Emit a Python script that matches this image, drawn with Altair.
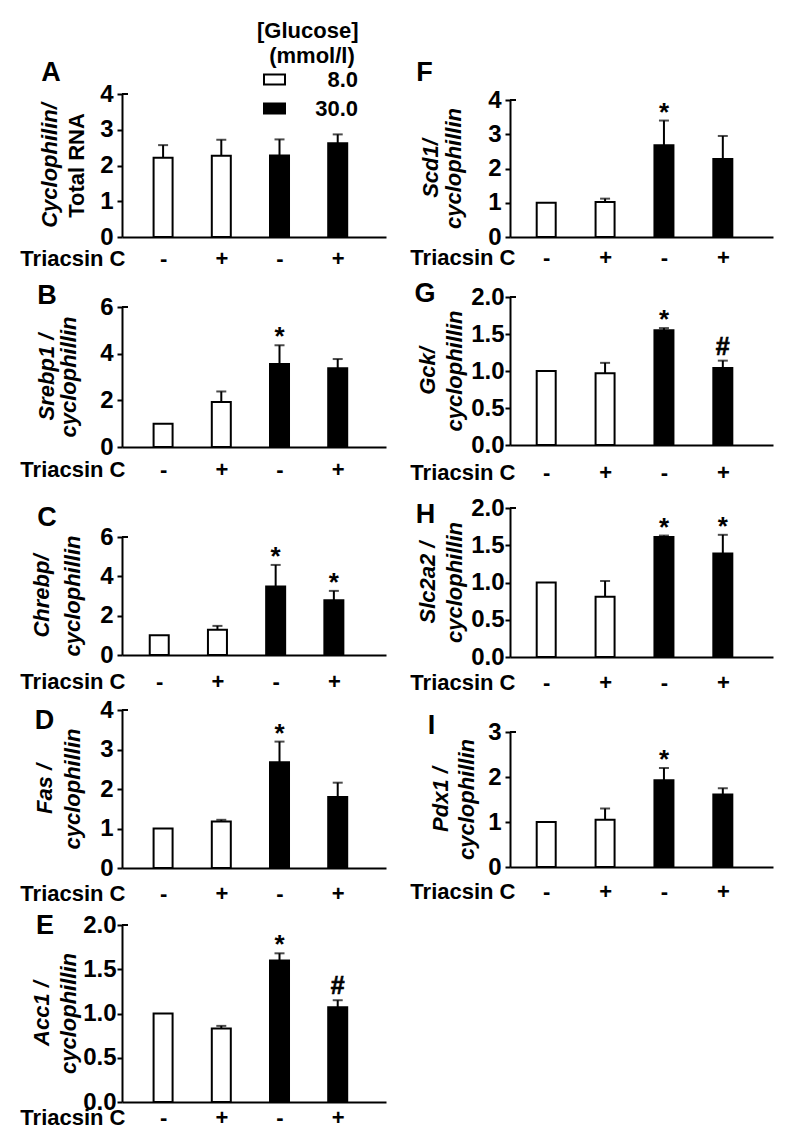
import altair as alt
import pandas as pd

FONT = "Liberation Sans"
FS = 22

# ---------------- data ----------------
order = [1, 2, 3, 4]
triacsin = ["-", "+", "-", "+"]
glucose = ["8.0", "8.0", "30.0", "30.0"]

mean_A = [2.22, 2.27, 2.28, 2.62]
sem_A = [0.35, 0.45, 0.45, 0.25]
mark_A = ["", "", "", ""]

mean_B = [1.0, 1.93, 3.56, 3.37]
sem_B = [0.0, 0.45, 0.80, 0.40]
mark_B = ["", "", "*", ""]

mean_C = [1.0, 1.28, 3.48, 2.79]
sem_C = [0.0, 0.20, 1.10, 0.47]
mark_C = ["", "", "*", "*"]

mean_D = [1.0, 1.18, 2.68, 1.80]
sem_D = [0.0, 0.04, 0.52, 0.36]
mark_D = ["", "", "*", ""]

mean_E = [1.0, 0.83, 1.60, 1.07]
sem_E = [0.0, 0.03, 0.08, 0.08]
mark_E = ["", "", "*", "#"]

mean_F = [1.0, 1.02, 2.68, 2.28]
sem_F = [0.0, 0.10, 0.72, 0.67]
mark_F = ["", "", "*", ""]

mean_G = [1.0, 0.97, 1.55, 1.04]
sem_G = [0.0, 0.14, 0.03, 0.10]
mark_G = ["", "", "*", "#"]

mean_H = [1.0, 0.81, 1.61, 1.39]
sem_H = [0.0, 0.21, 0.02, 0.25]
mark_H = ["", "", "*", "*"]

mean_I = [1.0, 1.05, 1.93, 1.61]
sem_I = [0.0, 0.25, 0.27, 0.14]
mark_I = ["", "", "*", ""]

ylabel_A = ["Cyclophilin/", "Total RNA"]
ylabel_B = ["Srebp1 /", "cyclophillin"]
ylabel_C = ["Chrebp/", "cyclophillin"]
ylabel_D = ["Fas /", "cyclophillin"]
ylabel_E = ["Acc1 /", "cyclophillin"]
ylabel_F = ["Scd1/", "cyclophillin"]
ylabel_G = ["Gck/", "cyclophillin"]
ylabel_H = ["Slc2a2 /", "cyclophillin"]
ylabel_I = ["Pdx1 /", "cyclophillin"]

yticks_A = [0, 1, 2, 3, 4]
yticks_B = [0, 2, 4, 6]
yticks_C = [0, 2, 4, 6]
yticks_D = [0, 1, 2, 3, 4]
yticks_E = [0, 0.5, 1.0, 1.5, 2.0]
yticks_F = [0, 1, 2, 3, 4]
yticks_G = [0, 0.5, 1.0, 1.5, 2.0]
yticks_H = [0, 0.5, 1.0, 1.5, 2.0]
yticks_I = [0, 1, 2, 3]

legend_title = ["[Glucose]", "\u200b\u00a0\u00a0(mmol/l)"]
legend_labels = ["8.0", "30.0"]

# ---------------- layout (page pixels) ----------------
TOP = 13
COL_LEFT = [125, 513]
COL_W = [264, 263]
SLOPE = [60.5, 61.2]
XSTART = [0.38, 0.47]
TITLE_X = [3, 5]
ROWS = [["A", "F"], ["B", "G"], ["C", "H"], ["D", "I"], ["E"]]

# t1/t2: baseline of the two y-title lines, relative to the y axis
LAYOUT = {
    "A": dict(col=0, axis=237, top=94, letter=(54, 73), t1=-65, t2=-38, xoff=21, shift=0),
    "B": dict(col=0, axis=447, top=307, letter=(50, 296), t1=-68, t2=-46, xoff=22, shift=0),
    "C": dict(col=0, axis=655, top=537, letter=(50, 518), t1=-73, t2=-42, xoff=26, shift=-4),
    "D": dict(col=0, axis=868, top=710, letter=(47.5, 721), t1=-70, t2=-42, xoff=25, shift=0),
    "E": dict(col=0, axis=1102, top=925, letter=(48, 926), t1=-73, t2=-46, xoff=15, shift=0),
    "F": dict(col=1, axis=237, top=100, letter=(427.5, 72.5), t1=-72, t2=-49, xoff=20, shift=0),
    "G": dict(col=1, axis=445, top=297, letter=(428, 293.5), t1=-75, t2=-48, xoff=27, shift=0),
    "H": dict(col=1, axis=657, top=508, letter=(428.5, 515), t1=-75, t2=-48, xoff=25, shift=0),
    "I": dict(col=1, axis=867, top=732, letter=(434.5, 726), t1=-62, t2=-36, xoff=24, shift=0),
}

# row tops of the grid (each row as tall as its tallest panel)
ROW_TOP = {}
_t = TOP
for _row in ROWS:
    for _k in _row:
        ROW_TOP[_k] = _t
    _t = max(LAYOUT[_k]["axis"] for _k in _row)


def panel(key, means, sems, marks, ylabel, yticks, yfmt, with_legend=False, line2_italic=True):
    L = LAYOUT[key]
    col = L["col"]
    left = COL_LEFT[col]
    slot_top = ROW_TOP[key]
    h = L["axis"] - slot_top
    plot_h = L["axis"] - L["top"]
    ytop = h - plot_h

    df = pd.DataFrame({"pos": order, "mean": means, "sem": sems,
                       "glucose": glucose, "mark": marks, "triacsin": triacsin})
    df["top"] = df["mean"] + df["sem"]

    x0 = XSTART[col] - L["shift"] / SLOPE[col]
    xs = alt.Scale(domain=[x0, x0 + COL_W[col] / SLOPE[col]], nice=False, zero=False)
    ys = alt.Scale(domain=[0, yticks[-1]], range=[h, ytop], nice=False, zero=True)

    xaxis = alt.Axis(values=order, labelExpr="datum.value % 2 == 1 ? '-' : '+'",
                     ticks=False, domainColor="black", domainWidth=2,
                     labelPadding=L["xoff"], labelBaseline="middle", labelFont=FONT,
                     labelFontSize=FS, labelFontWeight="bold", labelColor="black",
                     labelAngle=0, labelFlush=False, labelOverlap=False, grid=False,
                     title="Triacsin C", titleX=TITLE_X[col], titleY=L["xoff"],
                     titleAlign="right", titleBaseline="middle", titleFont=FONT,
                     titleFontSize=FS, titleFontWeight="bold", titleColor="black",
                     titleAngle=0)
    yaxis = alt.Axis(values=yticks, format=yfmt, title=None, grid=False,
                     domainColor="black", domainWidth=2, tickColor="black",
                     tickWidth=2, tickSize=5, labelPadding=1 if yfmt == ".1f" else 4,
                     labelFont=FONT, labelFontSize=24, labelFontWeight="bold",
                     labelColor="black", labelFlush=False, labelOverlap=False)

    if with_legend:
        leg = alt.Legend(title=legend_title, orient="none", legendX=135, legendY=8,
                         direction="vertical", titleAnchor="start", titleAlign="left",
                         titleFont=FONT, titleFontSize=FS, titleFontWeight="bold",
                         titleColor="black", titleLineHeight=25, titlePadding=0,
                         labelFont=FONT, labelFontSize=FS, labelFontWeight="bold",
                         labelColor="black", labelAlign="right", labelOffset=72,
                         symbolType="M-1,-0.48H1V0.48H-1Z", symbolSize=441,
                         symbolStrokeColor="black", symbolStrokeWidth=2,
                         symbolOffset=6, rowPadding=6, padding=0)
    else:
        leg = None
    fill = alt.Fill("glucose:N",
                    scale=alt.Scale(domain=legend_labels, range=["white", "black"]),
                    legend=leg)

    X = alt.X("pos:Q", scale=xs, axis=xaxis)
    base = alt.Chart(df)
    bars = base.mark_bar(size=19, stroke="black", strokeWidth=2, orient="vertical").encode(
        x=X, y=alt.Y("mean:Q", scale=ys, axis=yaxis), fill=fill)
    errs = base.transform_filter("datum.sem > 0").mark_rule(strokeWidth=2, color="black").encode(
        x=X, y=alt.Y("mean:Q", scale=ys, axis=yaxis), y2="top:Q")
    caps = base.transform_filter("datum.sem > 0").mark_tick(
        orient="horizontal", size=10, thickness=2, color="black").encode(
        x=X, y=alt.Y("top:Q", scale=ys, axis=yaxis))
    stars = base.transform_filter("datum.mark == '*'").mark_text(
        font=FONT, fontSize=26, fontWeight="bold", baseline="alphabetic",
        align="center", dy=0, color="black").encode(
        x=X, y=alt.Y("top:Q", scale=ys, axis=yaxis), text="mark:N")
    hashes = base.transform_filter("datum.mark == '#'").mark_text(
        font=FONT, fontSize=25, fontWeight="bold", baseline="alphabetic",
        align="center", dy=-6, color="black", stroke="black", strokeWidth=0.6).encode(
        x=X, y=alt.Y("top:Q", scale=ys, axis=yaxis), text="mark:N")
    # small stub to the right at the top of the y axis
    stub = alt.Chart(pd.DataFrame({"v": [yticks[-1]]})).mark_rule(
        strokeWidth=2, color="black").encode(
        y=alt.Y("v:Q", scale=ys, axis=yaxis), x=alt.value(0), x2=alt.value(6))

    ymid = ytop + plot_h / 2
    t1 = alt.Chart(pd.DataFrame({"t": [ylabel[0]]})).mark_text(
        angle=270, align="center", baseline="alphabetic", font=FONT, fontSize=FS,
        fontWeight="bold", fontStyle="italic", color="black").encode(
        text="t:N", x=alt.value(L["t1"]), y=alt.value(ymid))
    t2 = alt.Chart(pd.DataFrame({"t": [ylabel[1]]})).mark_text(
        angle=270, align="center", baseline="alphabetic", font=FONT, fontSize=FS,
        fontWeight="bold", fontStyle="italic" if line2_italic else "normal",
        color="black").encode(
        text="t:N", x=alt.value(L["t2"]), y=alt.value(ymid))
    letter = alt.Chart(pd.DataFrame({"t": [key]})).mark_text(
        align="center", baseline="middle", font=FONT, fontSize=27,
        fontWeight="bold", color="black").encode(
        text="t:N", x=alt.value(L["letter"][0] - left),
        y=alt.value(L["letter"][1] - slot_top))

    return alt.layer(bars, errs, caps, stars, hashes, stub, t1, t2, letter).properties(
        width=COL_W[col], height=h)


pA = panel("A", mean_A, sem_A, mark_A, ylabel_A, yticks_A, "d", with_legend=True, line2_italic=False)
pB = panel("B", mean_B, sem_B, mark_B, ylabel_B, yticks_B, "d")
pC = panel("C", mean_C, sem_C, mark_C, ylabel_C, yticks_C, "d")
pD = panel("D", mean_D, sem_D, mark_D, ylabel_D, yticks_D, "d")
pE = panel("E", mean_E, sem_E, mark_E, ylabel_E, yticks_E, ".1f")
pF = panel("F", mean_F, sem_F, mark_F, ylabel_F, yticks_F, "d")
pG = panel("G", mean_G, sem_G, mark_G, ylabel_G, yticks_G, ".1f")
pH = panel("H", mean_H, sem_H, mark_H, ylabel_H, yticks_H, ".1f")
pI = panel("I", mean_I, sem_I, mark_I, ylabel_I, yticks_I, "d")

chart = alt.concat(pA, pF, pB, pG, pC, pH, pD, pI, pE, columns=2,
                   spacing=alt.RowColnumber(row=0, column=124), bounds="flush"
                   ).resolve_scale(fill="independent").resolve_legend(
    fill="independent").configure_view(stroke=None).properties(
    padding={"left": 11, "top": 5, "right": 5, "bottom": 5}, background="white")

chart.save("out.html", embed_options={"renderer": "svg", "actions": False})
